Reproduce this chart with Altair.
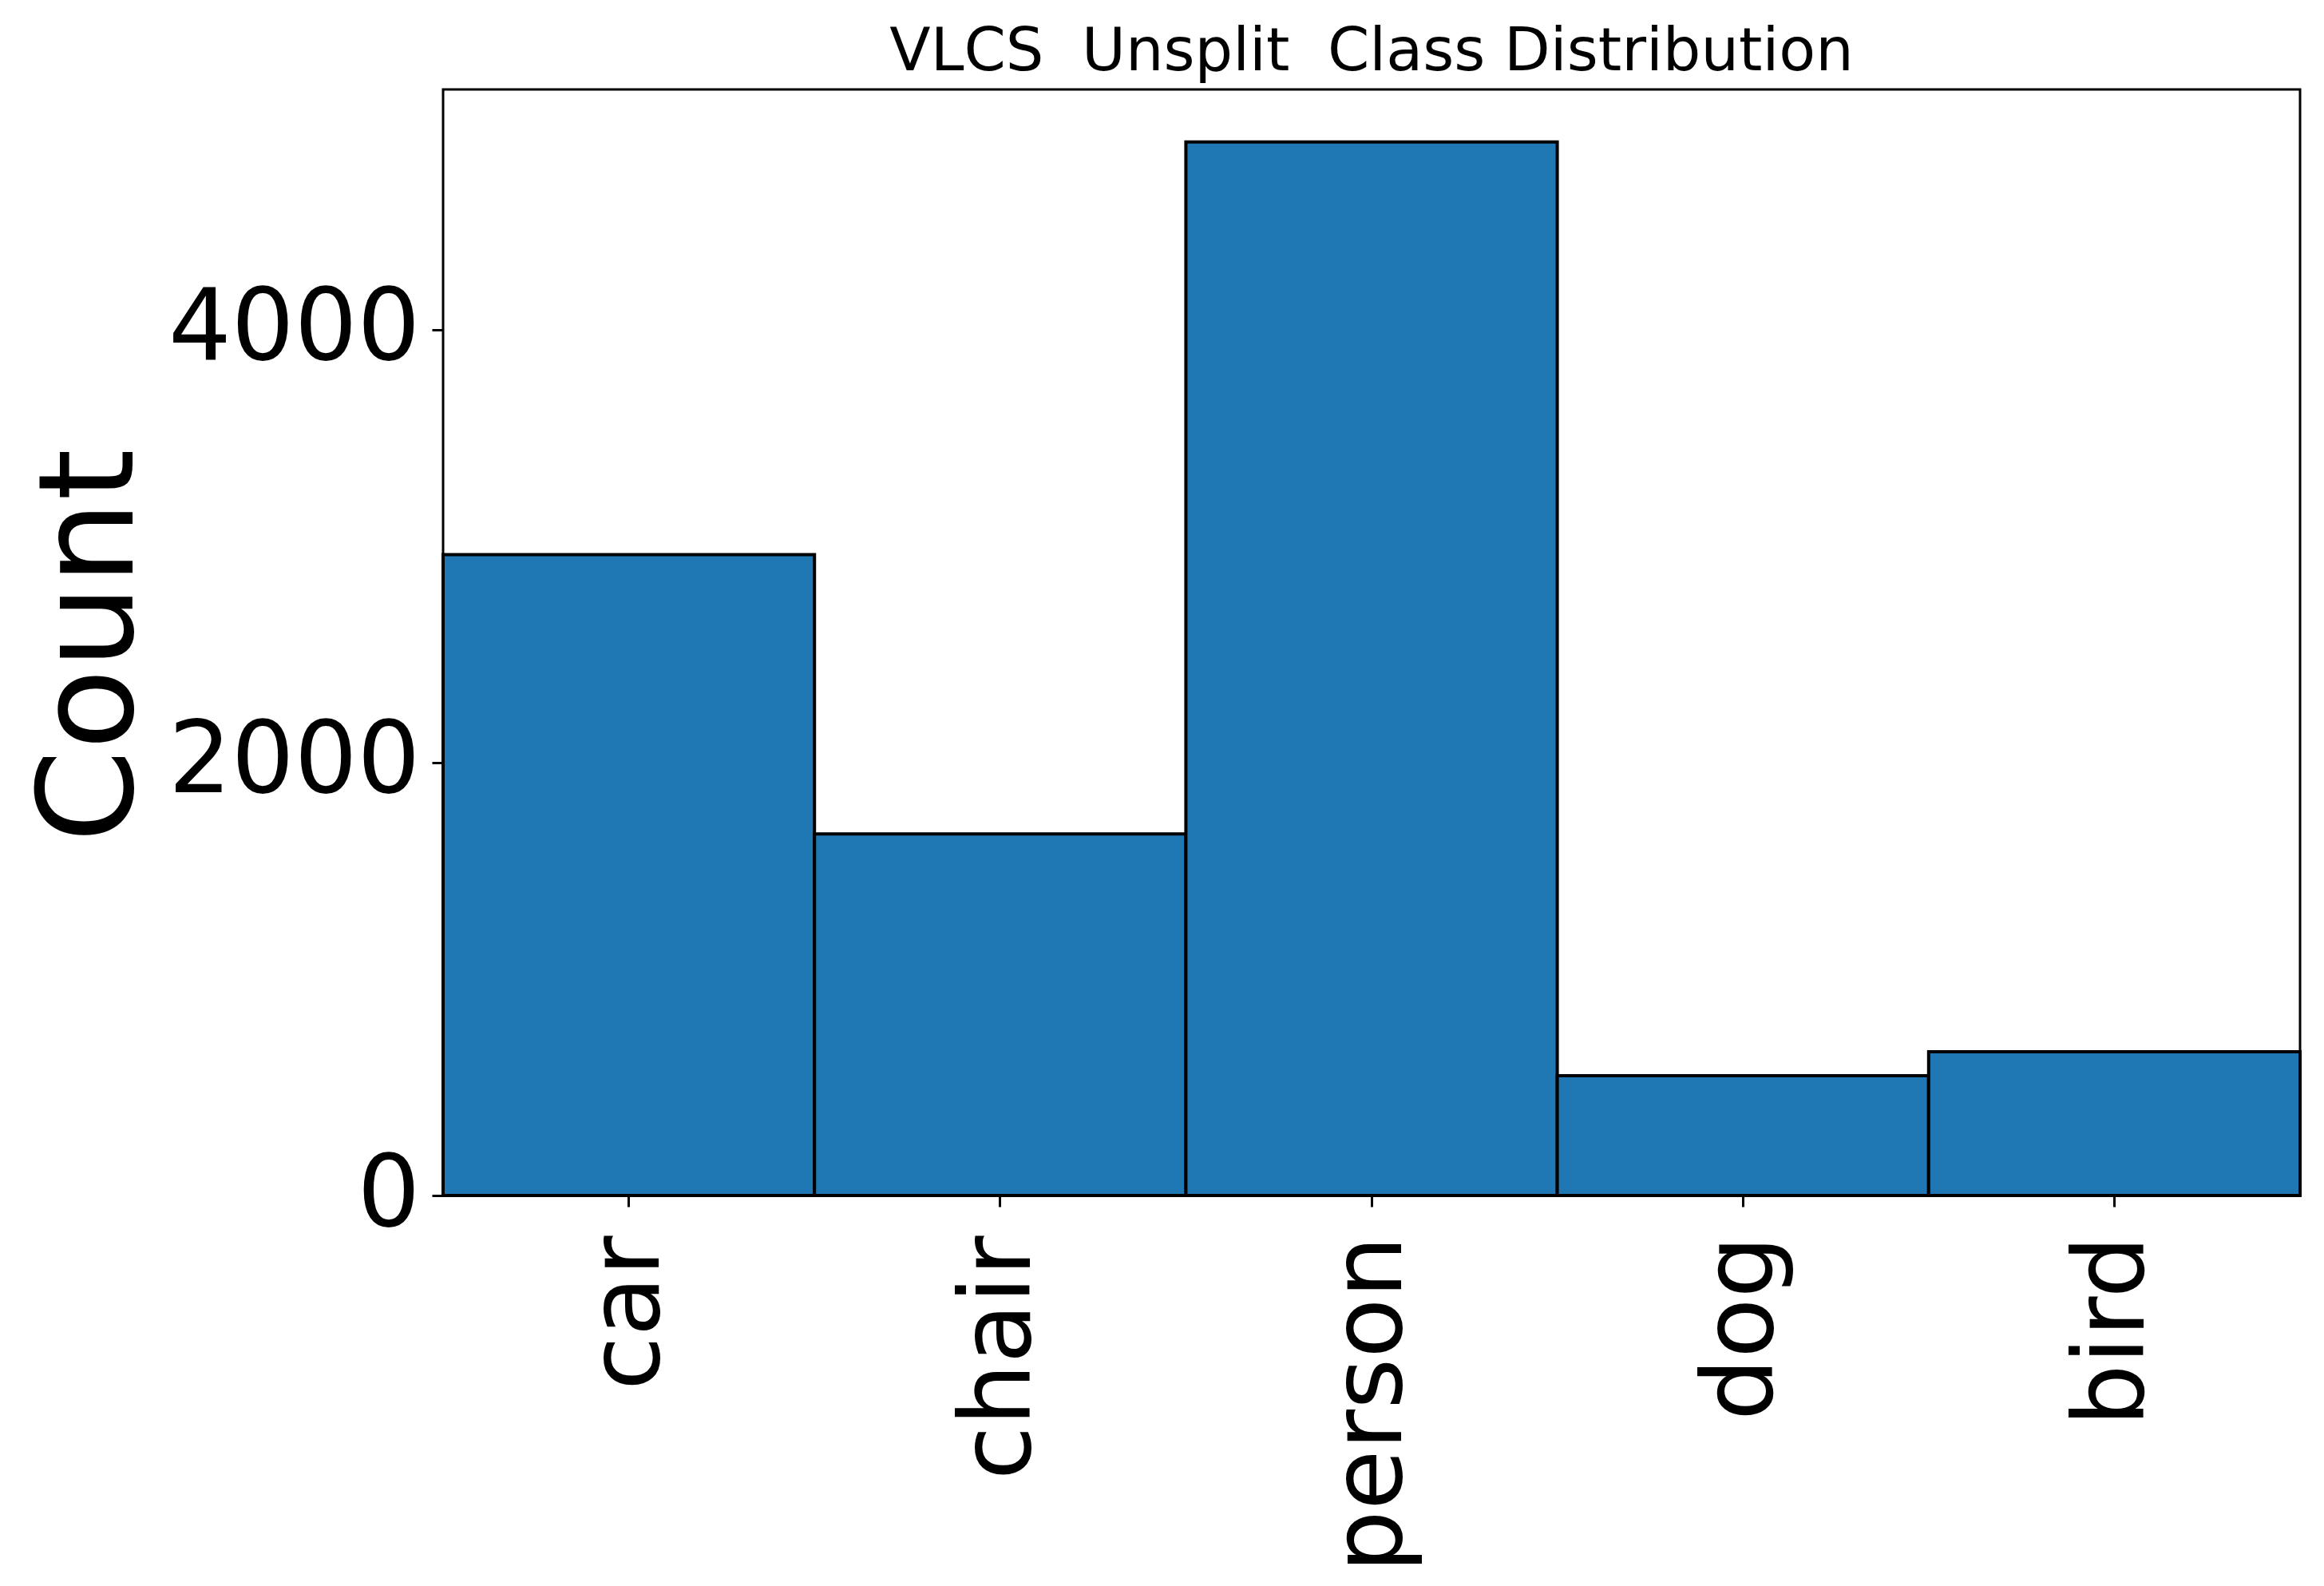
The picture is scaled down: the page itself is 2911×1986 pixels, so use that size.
import altair as alt
import pandas as pd

classes = ["car", "chair", "person", "dog", "bird"]
counts = [2960, 1670, 4866, 553, 664]
y_ticks = [0, 2000, 4000]
y_max = 5109

df = pd.DataFrame({"cls": classes, "count": counts})

FONT = "DejaVu Sans"
TITLE = "VLCS\u00a0 Unsplit\u00a0 Class Distribution"

chart = alt.Chart(df).mark_bar(
    color="#1f77b4", stroke="black", strokeWidth=4
).encode(
    x=alt.X(
        "cls:N",
        sort=classes,
        scale=alt.Scale(paddingInner=0, paddingOuter=0),
        axis=alt.Axis(
            title=None,
            labelAngle=-90,
            labelAlign="right",
            labelBaseline="middle",
            labelFontSize=123,
            labelFont=FONT,
            labelColor="black",
            labelPadding=36,
            labelLimit=2000,
            tickSize=14,
            tickWidth=3,
            tickColor="black",
            domain=False,
            grid=False,
        ),
    ),
    y=alt.Y(
        "count:Q",
        scale=alt.Scale(domain=[0, y_max], nice=False, zero=True),
        axis=alt.Axis(
            title="Count",
            titleFont=FONT,
            titleFontSize=166,
            titleFontWeight="normal",
            titleColor="black",
            titleAngle=-90,
            titleAlign="center",
            titleBaseline="alphabetic",
            titleX=-390,
            titleY=696,
            titleLimit=3000,
            values=y_ticks,
            format="d",
            labelFontSize=124,
            labelFont=FONT,
            labelColor="black",
            labelPadding=15,
            labelLimit=2000,
            tickSize=14,
            tickWidth=3,
            tickColor="black",
            domain=False,
            grid=False,
        ),
    ),
).properties(
    width=2326,
    height=1385,
    background="white",
    title=alt.TitleParams(
        text=TITLE,
        font=FONT,
        fontSize=75,
        fontWeight="normal",
        color="black",
        anchor="middle",
        frame="group",
        baseline="alphabetic",
        offset=-51,
        limit=3000,
    ),
    autosize=alt.AutoSizeParams(type="none"),
    padding={"left": 547, "top": 104, "right": 15, "bottom": 478},
).configure_view(
    stroke="black", strokeWidth=3, fill="white"
)

chart.save("out.html", embed_options={"renderer": "svg", "actions": False})
